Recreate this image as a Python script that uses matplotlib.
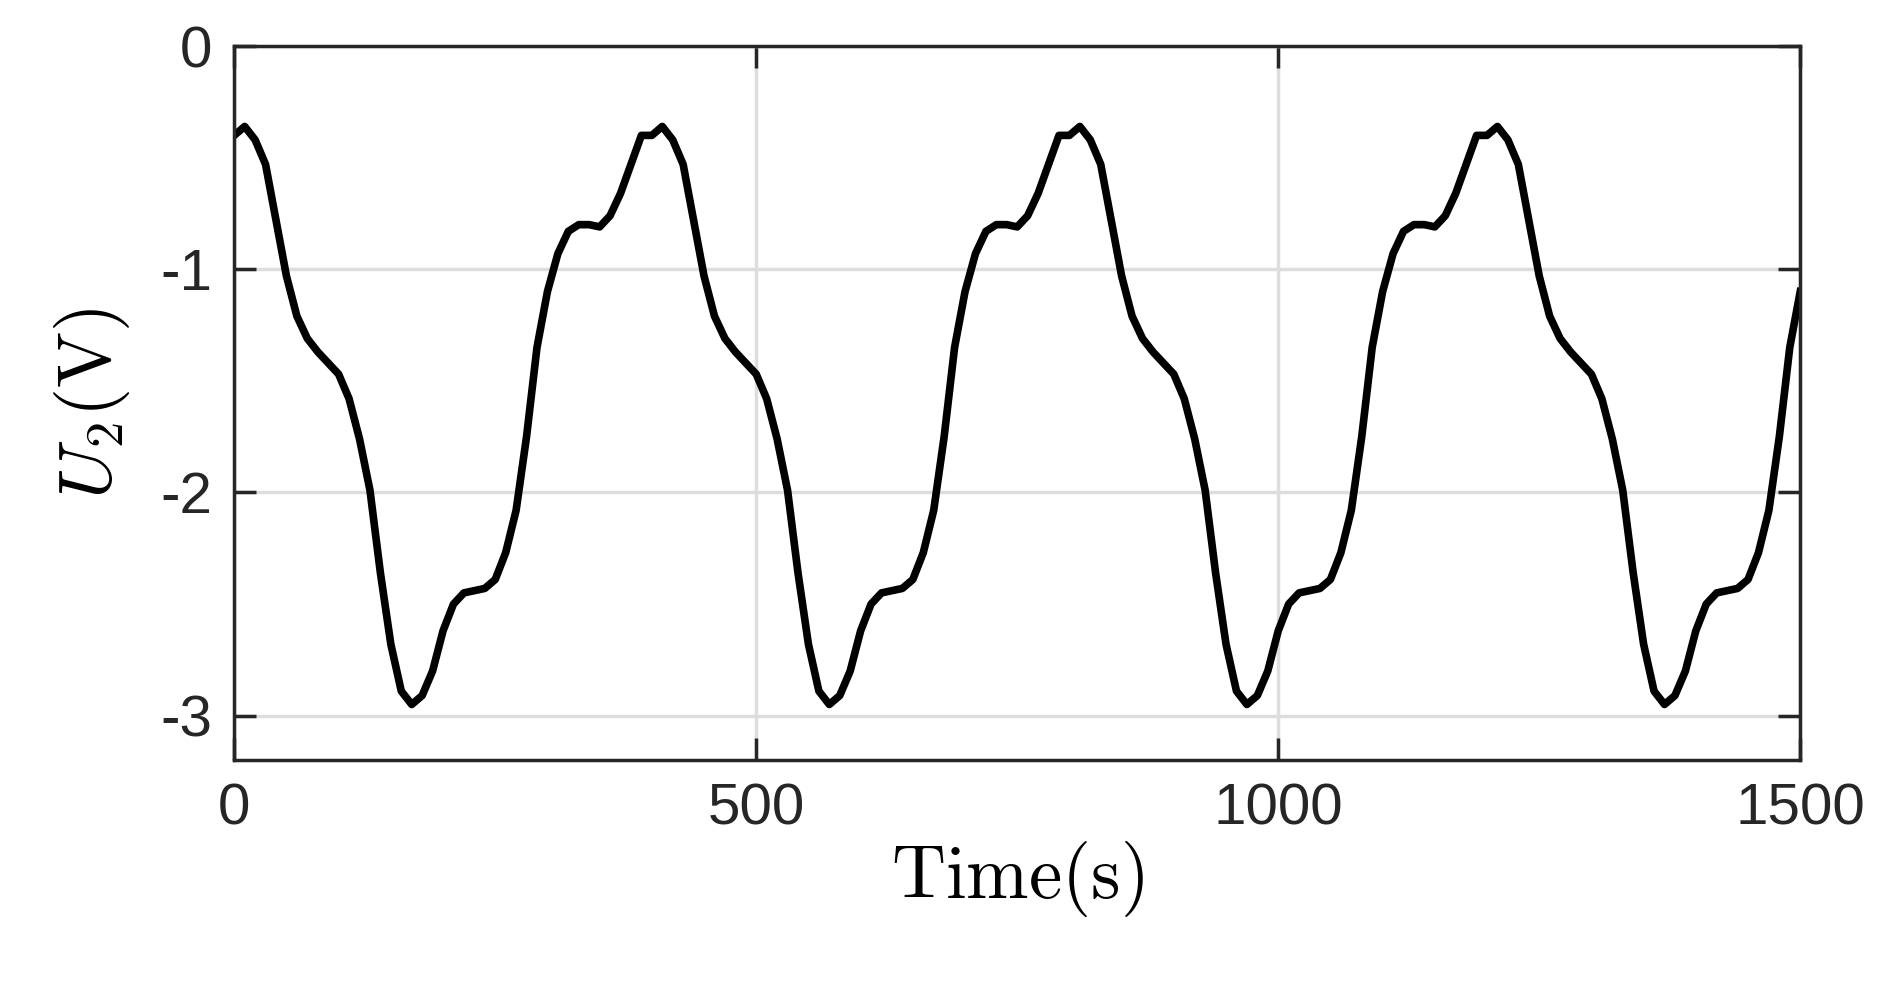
import numpy as np
import matplotlib.pyplot as plt

plt.rcParams["mathtext.fontset"] = "cm"
plt.rcParams["axes.unicode_minus"] = False

# one period (400 s) of U2, read every 10 s
period_t = list(range(0, 400, 10))
period_u = [-0.40, -0.36, -0.42, -0.53, -0.78, -1.03, -1.21, -1.31, -1.37, -1.42,
            -1.47, -1.58, -1.76, -1.99, -2.36, -2.68, -2.89, -2.95, -2.91, -2.80,
            -2.62, -2.50, -2.45, -2.44, -2.43, -2.39, -2.27, -2.08, -1.75, -1.35,
            -1.10, -0.93, -0.83, -0.80, -0.80, -0.81, -0.76, -0.66, -0.53, -0.40]

time = np.arange(0, 1510, 10)
u2 = np.tile(period_u, 4)[:len(time)]

fig = plt.figure(figsize=(18.89, 9.81), dpi=100)
ax = fig.add_axes([0.124, 0.225, 0.829, 0.728])
ax.plot(time, u2, color="black", linewidth=5.5, solid_joinstyle="round")

ax.set_xlim(0, 1500)
ax.set_ylim(-3.2, 0)
ax.set_xticks([0, 500, 1000, 1500])
ax.set_yticks([-3, -2, -1, 0])
ax.grid(True, color="#dddddd", linewidth=2.5)
ax.set_axisbelow(True)
for s in ax.spines.values():
    s.set_linewidth(2.5)
    s.set_color("#262626")
ax.tick_params(direction="in", length=16, width=2.5, labelsize=42, colors="#262626",
               top=True, right=True, pad=16)
for lab in ax.get_xticklabels() + ax.get_yticklabels():
    lab.set_family("Liberation Sans")

ax.set_xlabel(r"$\mathrm{Time(s)}$", fontsize=54, labelpad=2)
ax.set_ylabel(r"$U_2\mathrm{(V)}$", fontsize=54, labelpad=20)

fig.savefig("out.png", dpi=100)
